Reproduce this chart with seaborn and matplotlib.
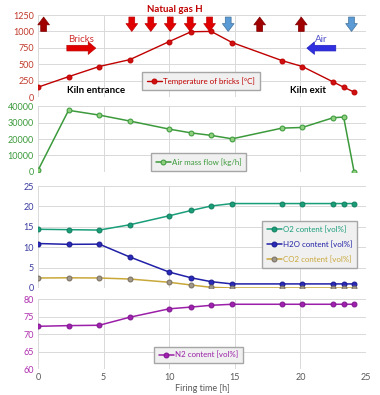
import pandas as pd
import matplotlib
matplotlib.use('Agg')
import matplotlib.pyplot as plt
import seaborn as sns

# firing time [h] of the measuring points
hours = [0, 2.33, 4.67, 7.0, 10.0, 11.67, 13.2, 14.8, 18.6, 20.15, 22.5, 23.3, 24.1]

tempBricks = [150, 310, 465, 570, 845, 995, 1000, 830, 555, 465, 230, 150, 75]
airFlow = [1000, 37400, 34500, 30900, 26000, 23700, 22200, 20100, 26600, 27000, 32900, 33300, 0]
o2 = [14.4, 14.3, 14.2, 15.5, 17.7, 19.0, 20.1, 20.7, 20.7, 20.7, 20.7, 20.7, 20.7]
h2o = [10.9, 10.7, 10.75, 7.6, 3.9, 2.5, 1.55, 1.0, 1.0, 1.0, 1.0, 1.0, 1.0]
co2 = [2.45, 2.5, 2.45, 2.2, 1.4, 0.73, 0.16, 0.0, 0.0, 0.0, 0.0, 0.0, 0.0]
n2 = [72.2, 72.4, 72.5, 74.8, 77.2, 77.7, 78.2, 78.5, 78.5, 78.5, 78.5, 78.5, 78.5]

# arrows above the temperature curve
gasArrows = [7.15, 8.6, 10.08, 11.6, 13.08]      # natural gas burners (down)
airInArrows = [14.5, 23.9]                         # air in (down, blue)
airOutArrows = [0.43, 16.9, 20.07]                 # air out (up, dark red)

df = pd.DataFrame({'t': hours, 'temp': tempBricks, 'air': airFlow,
                   'o2': o2, 'h2o': h2o, 'co2': co2, 'n2': n2})

sns.set_style('white')
plt.rcParams['font.family'] = ['Lato', 'DejaVu Sans']

fig = plt.figure(figsize=(3.8, 3.95), dpi=100)
L, W = 0.1, 0.863
ax1 = fig.add_axes([L, 0.7544, W, 0.2076])
ax2 = fig.add_axes([L, 0.5646, W, 0.167])
ax3 = fig.add_axes([L, 0.2709, W, 0.2582])
ax4 = fig.add_axes([L, 0.0658, W, 0.1772])

gridc = '#d9d9d9'
def style(ax, ylim, step, tickc):
    ax.set_xlim(0, 25)
    ax.set_ylim(*ylim)
    ax.set_xticks(range(0, 26, 5))
    ax.set_yticks(range(ylim[0], ylim[1] + 1, step))
    ax.grid(True, color=gridc, lw=0.7)
    for s in ax.spines.values():
        s.set_visible(False)
    ax.tick_params(axis='y', colors=tickc, labelsize=6.5, length=0, pad=3)
    ax.tick_params(axis='x', colors='#595959', labelsize=6.5, length=0, pad=3)
    ax.set_xlabel('')
    ax.set_ylabel('')

def leg(ax, box):
    ax.legend(loc='center', bbox_to_anchor=box, fontsize=5.7, frameon=True,
              fancybox=False, facecolor='#f0f0f0', edgecolor='#a6a6a6',
              handlelength=1.9, handletextpad=0.15, borderpad=0.6,
              labelspacing=0.95, framealpha=1)
    for txt, line in zip(ax.get_legend().get_texts(), ax.get_legend().get_lines()):
        txt.set_color(line.get_color())

# temperature of bricks
sns.lineplot(data=df, x='t', y='temp', ax=ax1, color='#c00000', marker='o',
             markersize=3.5, markerfacecolor='#d01010', markeredgecolor='#c00000',
             lw=1, label='Temperature of bricks [°C]')
style(ax1, (0, 1250), 250, '#c0392b')
ax1.tick_params(labelbottom=False)
leg(ax1, (0.317, 0.094, 0.36, 0.2))

def vert_arrow(x, up, fc, ec):
    top, bot = 0.975, 0.80
    a, b = (bot, top) if up else (top, bot)
    ax1.annotate('', xy=(x, b), xytext=(x, a), xycoords=('data', 'axes fraction'),
                 arrowprops=dict(arrowstyle='simple,head_length=0.8,head_width=1.2,tail_width=0.6',
                                 fc=fc, ec=ec, lw=0.5, mutation_scale=7,
                                 shrinkA=0, shrinkB=0), annotation_clip=False)

for x in gasArrows:
    vert_arrow(x, False, '#e00000', '#c00000')
for x in airInArrows:
    vert_arrow(x, False, '#5b9bd5', '#41719c')
for x in airOutArrows:
    vert_arrow(x, True, '#a00000', '#800000')

ax1.text(10.4, 1.07, 'Natual gas H', transform=ax1.get_xaxis_transform(),
         ha='center', va='center', fontsize=7, fontweight='bold', color='#c00000')
ax1.text(3.3, 870, 'Bricks', ha='center', va='center', fontsize=7, color='#d03030')
ax1.annotate('', xy=(4.4, 745), xytext=(2.2, 745),
             arrowprops=dict(arrowstyle='simple,head_length=0.6,head_width=1.0,tail_width=0.45',
                             fc='#e00000', ec='#c00000', lw=0.5, mutation_scale=9,
                             shrinkA=0, shrinkB=0))
ax1.text(21.6, 870, 'Air', ha='center', va='center', fontsize=7, color='#4f4fc8')
ax1.annotate('', xy=(20.5, 745), xytext=(22.7, 745),
             arrowprops=dict(arrowstyle='simple,head_length=0.6,head_width=1.0,tail_width=0.45',
                             fc='#2f2fe0', ec='#2020c0', lw=0.5, mutation_scale=9,
                             shrinkA=0, shrinkB=0))
ax1.text(4.4, 105, 'Kiln entrance', ha='center', va='center', fontsize=7,
         fontweight='bold', color='black')
ax1.text(20.6, 105, 'Kiln exit', ha='center', va='center', fontsize=7,
         fontweight='bold', color='black')

# air mass flow
sns.lineplot(data=df, x='t', y='air', ax=ax2, color='#3c9a3c', marker='o',
             markersize=3.5, markerfacecolor='#8fd07f', markeredgecolor='#3c9a3c',
             lw=1.1, label='Air mass flow [kg/h]')
style(ax2, (0, 40000), 10000, '#3c9a3c')
ax2.tick_params(labelbottom=False)
leg(ax2, (0.305, 0.005, 0.37, 0.295))

# gas composition
sns.lineplot(data=df, x='t', y='o2', ax=ax3, color='#1a9e7a', marker='o',
             markersize=3.5, markerfacecolor='#1a9e7a', markeredgecolor='#128060',
             lw=1.1, label='O2 content [vol%]')
sns.lineplot(data=df, x='t', y='h2o', ax=ax3, color='#2020a8', marker='o',
             markersize=3.5, markerfacecolor='#2a2ab8', markeredgecolor='#1a1a90',
             lw=1.1, label='H2O content [vol%]')
sns.lineplot(data=df, x='t', y='co2', ax=ax3, color='#c9a83a', marker='o',
             markersize=3.5, markerfacecolor='#a0988a', markeredgecolor='#7a7060',
             lw=1.1, label='CO2 content [vol%]')
style(ax3, (0, 25), 5, '#3b3ba0')
ax3.tick_params(labelbottom=False)
leg(ax3, (0.686, 0.216, 0.284, 0.424))

# nitrogen
sns.lineplot(data=df, x='t', y='n2', ax=ax4, color='#9b1fa8', marker='o',
             markersize=3.5, markerfacecolor='#a020b0', markeredgecolor='#801890',
             lw=1.1, label='N2 content [vol%]')
style(ax4, (60, 80), 5, '#b030b0')
leg(ax4, (0.344, 0.096, 0.29, 0.208))
ax4.set_xlabel('Firing time [h]', fontsize=6.5, color='#595959', labelpad=1)

fig.savefig('out.png', dpi=100)
